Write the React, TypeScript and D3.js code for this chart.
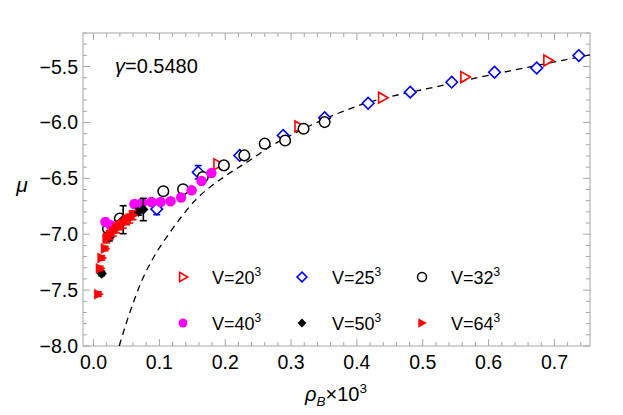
import React from "react";
import * as d3 from "d3";

// [rho_B x 10^3, mu, error]
const v20: [number, number, number][] = [
  [0.189, -6.375, 0], [0.312, -6.036, 0], [0.439, -5.779, 0], [0.564, -5.594, 0], [0.690, -5.446, 0],
];
const v25: [number, number, number][] = [
  [0.096, -6.775, 0.05], [0.159, -6.446, 0.06], [0.222, -6.295, 0], [0.288, -6.116, 0],
  [0.351, -5.958, 0], [0.417, -5.828, 0], [0.481, -5.729, 0], [0.544, -5.640, 0],
  [0.609, -5.551, 0], [0.673, -5.513, 0], [0.737, -5.402, 0],
];
const v32: [number, number, number][] = [
  [0.022, -6.95, 0], [0.040, -6.86, 0], [0.106, -6.616, 0], [0.136, -6.598, 0], [0.166, -6.488, 0],
  [0.198, -6.384, 0], [0.229, -6.295, 0], [0.260, -6.19, 0.03], [0.291, -6.161, 0],
  [0.319, -6.056, 0], [0.351, -5.997, 0],
];
const v40: [number, number, number][] = [
  [0.018, -6.89, 0.03], [0.026, -6.92, 0.03], [0.062, -6.73, 0.025], [0.074, -6.72, 0.025],
  [0.088, -6.712, 0.02], [0.102, -6.712, 0.02], [0.117, -6.705, 0.02], [0.133, -6.672, 0.02],
  [0.149, -6.607, 0], [0.164, -6.524, 0], [0.179, -6.453, 0],
];
const v50: [number, number, number][] = [
  [0.0124, -7.351, 0.02], [0.024, -7.03, 0.03], [0.045, -6.87, 0.125], [0.068, -6.80, 0.03], [0.0756, -6.779, 0.1],
];
const v64: [number, number, number][] = [
  [0.0073, -7.536, 0.02], [0.0099, -7.306, 0.02], [0.0124, -7.212, 0.02], [0.0175, -7.128, 0.02],
  [0.020, -7.038, 0.04], [0.025, -7.009, 0.04], [0.030, -6.979, 0.04], [0.035, -6.949, 0.04],
  [0.040, -6.920, 0.04], [0.045, -6.905, 0.04], [0.050, -6.875, 0.04], [0.055, -6.860, 0.04],
  [0.060, -6.830, 0.04],
];
const curveRho = [0.039, 0.05, 0.063, 0.073, 0.09, 0.119, 0.154, 0.2, 0.237, 0.263, 0.298, 0.4, 0.525, 0.64, 0.754];
const curveMu = [-8.0, -7.79, -7.57, -7.42, -7.22, -6.96, -6.70, -6.48, -6.34, -6.235, -6.12, -5.855, -5.675, -5.53, -5.396];

const xTicks = [0, 0.1, 0.2, 0.3, 0.4, 0.5, 0.6, 0.7];
const yTicks = [-8.0, -7.5, -7.0, -6.5, -6.0, -5.5];
const legendLabels = ["20", "25", "32", "40", "50", "64"];

const W = 623, H = 415;
const L = 83, R = 590, T = 33, B = 346;
const FONT = "Liberation Sans, Arial, sans-serif";

type Kind = "triOpen" | "diaOpen" | "circOpen" | "circFill" | "diaFill" | "triFill";

function Marker({ kind, cx, cy, s = 1 }: { kind: Kind; cx: number; cy: number; s?: number }) {
  switch (kind) {
    case "triOpen": {
      const p = `${cx - 4 * s},${cy - 5.5 * s} ${cx - 4 * s},${cy + 5.5 * s} ${cx + 5.5 * s},${cy}`;
      return <polygon points={p} fill="white" stroke="#ff0000" strokeWidth={1.6} />;
    }
    case "triFill": {
      const p = `${cx - 4 * s},${cy - 5 * s} ${cx - 4 * s},${cy + 5 * s} ${cx + 5 * s},${cy}`;
      return <polygon points={p} fill="#ff0000" stroke="#ff0000" strokeWidth={0.6} />;
    }
    case "diaOpen": {
      const r = 5.8 * s;
      const p = `${cx},${cy - r} ${cx + r},${cy} ${cx},${cy + r} ${cx - r},${cy}`;
      return <polygon points={p} fill="white" stroke="#0000ff" strokeWidth={1.6} />;
    }
    case "diaFill": {
      const r = 5.2 * s;
      const p = `${cx},${cy - r} ${cx + r},${cy} ${cx},${cy + r} ${cx - r},${cy}`;
      return <polygon points={p} fill="#000" />;
    }
    case "circOpen":
      return <circle cx={cx} cy={cy} r={5.3 * s} fill="white" stroke="#000" strokeWidth={1.5} />;
    case "circFill":
      return <circle cx={cx} cy={cy} r={5.2 * s} fill="#ff00ff" />;
  }
}

export default function App() {
  const x = d3.scaleLinear().domain([-0.016, 0.754]).range([L, R]);
  const y = d3.scaleLinear().domain([-8.0, -5.2]).range([B, T]);

  const series: { data: [number, number, number][]; kind: Kind; color: string }[] = [
    { data: v20, kind: "triOpen", color: "#ff0000" },
    { data: v25, kind: "diaOpen", color: "#0000ff" },
    { data: v32, kind: "circOpen", color: "#000000" },
    { data: v40, kind: "circFill", color: "#ff00ff" },
    { data: v50, kind: "diaFill", color: "#000000" },
    { data: v64, kind: "triFill", color: "#ff0000" },
  ];

  const line = d3
    .line<number>()
    .x((_, i) => x(curveRho[i]))
    .y((d) => y(d))
    .curve(d3.curveMonotoneX);

  const xMinor = d3.range(0, 0.76, 0.02).filter((v) => x(v) >= L && x(v) <= R);
  const yMinor = d3.range(-8.0, -5.19, 0.1);

  const legendCols = [183, 302, 422];
  const legendTextX = [212, 332, 451];
  const legendRows = [277, 323];
  const kinds: Kind[] = ["triOpen", "diaOpen", "circOpen", "circFill", "diaFill", "triFill"];

  return (
    <svg width={W} height={H} style={{ position: "absolute", left: 0, top: 0 }} fontFamily={FONT}>
      <rect width={W} height={H} fill="white" />
      <defs>
        <clipPath id="plotClip">
          <rect x={L} y={T} width={R - L} height={B - T} />
        </clipPath>
      </defs>
      <rect x={L} y={T} width={R - L} height={B - T} fill="none" stroke="#a6a6a6" strokeWidth={1} />
      {xMinor.map((v, i) => {
        const isMajor = Math.abs(v * 10 - Math.round(v * 10)) < 1e-6;
        const len = isMajor ? 7 : 4;
        return (
          <g key={"xt" + i} stroke="#a6a6a6" strokeWidth={1}>
            <line x1={x(v)} x2={x(v)} y1={B} y2={B - len} />
            <line x1={x(v)} x2={x(v)} y1={T} y2={T + len} />
          </g>
        );
      })}
      {yMinor.map((v, i) => {
        const isMajor = Math.abs(v * 2 - Math.round(v * 2)) < 1e-6;
        const len = isMajor ? 7 : 4;
        return (
          <g key={"yt" + i} stroke="#a6a6a6" strokeWidth={1}>
            <line x1={L} x2={L + len} y1={y(v)} y2={y(v)} />
            <line x1={R} x2={R - len} y1={y(v)} y2={y(v)} />
          </g>
        );
      })}
      {xTicks.map((v) => (
        <text key={"xl" + v} x={x(v)} y={369} textAnchor="middle" fontSize={19.5} fill="#000">
          {v.toFixed(1)}
        </text>
      ))}
      {yTicks.map((v) => (
        <text key={"yl" + v} x={78} y={y(v) + 7} textAnchor="end" fontSize={19.5} fill="#000">
          {"\u2212" + Math.abs(v).toFixed(1)}
        </text>
      ))}
      <text x={336} y={401} textAnchor="middle" fontSize={20} fill="#000">
        <tspan fontStyle="italic">ρ</tspan>
        <tspan fontStyle="italic" fontSize={13.5} dy={5}>B</tspan>
        <tspan dy={-5}>×10</tspan>
        <tspan fontSize={13.5} dy={-8}>3</tspan>
      </text>
      <text x={22} y={192} textAnchor="middle" fontSize={21} fontStyle="italic" fill="#000">μ</text>
      <text x={115} y={73} fontSize={20} fill="#000">
        <tspan fontStyle="italic">γ</tspan>=0.5480
      </text>

      <g clipPath="url(#plotClip)">
        <path d={line(curveMu) || ""} fill="none" stroke="#000" strokeWidth={1.3} strokeDasharray="6.5,5" />
        {series.map((s, si) => (
          <g key={"s" + si}>
            {s.data.map((d, i) => {
              const cx = x(d[0]);
              const cy = y(d[1]);
              const e = d[2];
              return (
                <g key={i}>
                  {e > 0 && (
                    <g stroke={s.color} strokeWidth={1.6}>
                      <line x1={cx} x2={cx} y1={y(d[1] - e)} y2={y(d[1] + e)} />
                      <line x1={cx - 3.5} x2={cx + 3.5} y1={y(d[1] - e)} y2={y(d[1] - e)} />
                      <line x1={cx - 3.5} x2={cx + 3.5} y1={y(d[1] + e)} y2={y(d[1] + e)} />
                    </g>
                  )}
                  <Marker kind={s.kind} cx={cx} cy={cy} />
                </g>
              );
            })}
          </g>
        ))}
      </g>

      {legendLabels.map((lab, i) => {
        const col = i % 3;
        const row = Math.floor(i / 3);
        const cy = legendRows[row];
        return (
          <g key={"lg" + i}>
            <Marker kind={kinds[i]} cx={legendCols[col]} cy={cy} s={0.85} />
            <text x={legendTextX[col]} y={cy + 7} fontSize={18} fill="#000">
              V=
              {lab}
              <tspan fontSize={12} dy={-8}>3</tspan>
            </text>
          </g>
        );
      })}
    </svg>
  );
}
